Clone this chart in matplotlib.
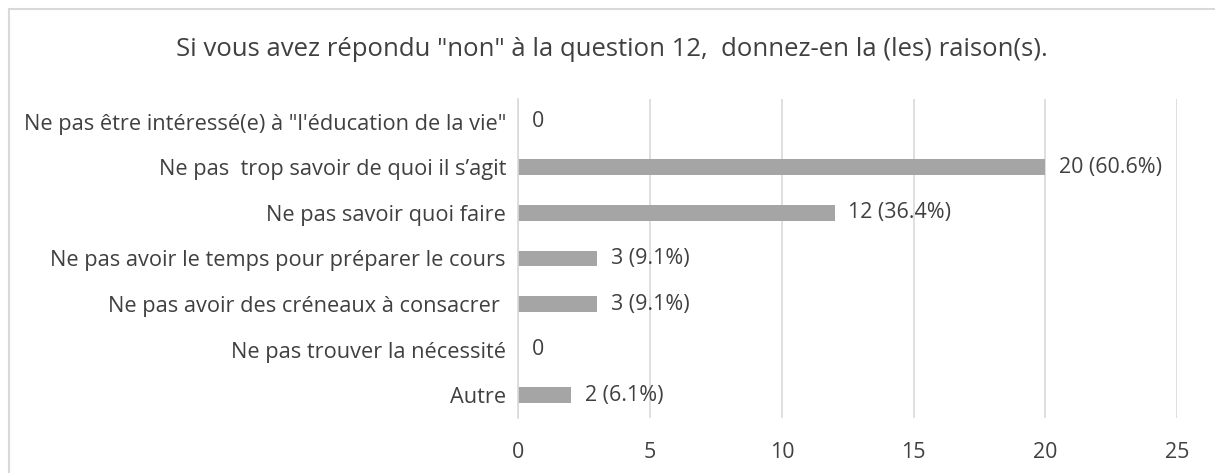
import matplotlib.pyplot as plt
from matplotlib.patches import Rectangle

plt.rcParams['font.family'] = ['Open Sans', 'DejaVu Sans']

title = 'Si vous avez répondu "non" à la question 12,  donnez-en la (les) raison(s).'
categories = [
    'Ne pas être intéressé(e) à "l\'éducation de la vie"',
    'Ne pas  trop savoir de quoi il s\u2019agit',
    'Ne pas savoir quoi faire',
    'Ne pas avoir le temps pour préparer le cours',
    'Ne pas avoir des créneaux à consacrer ',
    'Ne pas trouver la nécessité',
    'Autre',
]
counts = [0, 20, 12, 3, 3, 0, 2]
labels = ['0', '20 (60.6%)', '12 (36.4%)', '3 (9.1%)', '3 (9.1%)', '0', '2 (6.1%)']
xticks = [0, 5, 10, 15, 20, 25]

fig = plt.figure(figsize=(12.15, 4.73), dpi=100)
ax = fig.add_axes([0.4267, 0.1163, 0.542, 0.6744])

ypos = list(range(len(categories)))
bars = ax.barh(ypos, counts, height=0.35, color='#a5a5a5', zorder=3)
for b, lab in zip(bars, labels):
    ax.annotate(lab, (b.get_width(), b.get_y() + b.get_height() / 2),
                xytext=(10, 0), textcoords='offset points',
                va='center', ha='left', fontsize=15.4, color='#404040')

ax.set_xlim(0, 25)
ax.set_ylim(6.5, -0.5)
ax.set_xticks(xticks)
ax.set_yticks(ypos)
ax.set_yticklabels(categories, fontsize=15.7)
ax.tick_params(axis='both', length=0, labelcolor='#404040')
ax.tick_params(axis='x', labelsize=15.4, pad=17)
ax.tick_params(axis='y', pad=9)
ax.grid(axis='x', color='#d9d9d9', linewidth=1.2, zorder=0)
for s in ['top', 'right', 'bottom']:
    ax.spines[s].set_visible(False)
ax.spines['left'].set_color('#d9d9d9')
ax.spines['left'].set_linewidth(1.2)
ax.spines['left'].set_zorder(4)

fig.text(0.504, 0.895, title, ha='center', va='center', fontsize=18.5, color='#404040')

# chart frame (cropped at right and bottom in the original)
fig.patches.append(Rectangle((8.5 / 1215, -0.1), 1.2, 1.1 - 9 / 473, transform=fig.transFigure,
                             fill=False, edgecolor='#d9d9d9', linewidth=1.5))

fig.savefig('out.png', dpi=100)
